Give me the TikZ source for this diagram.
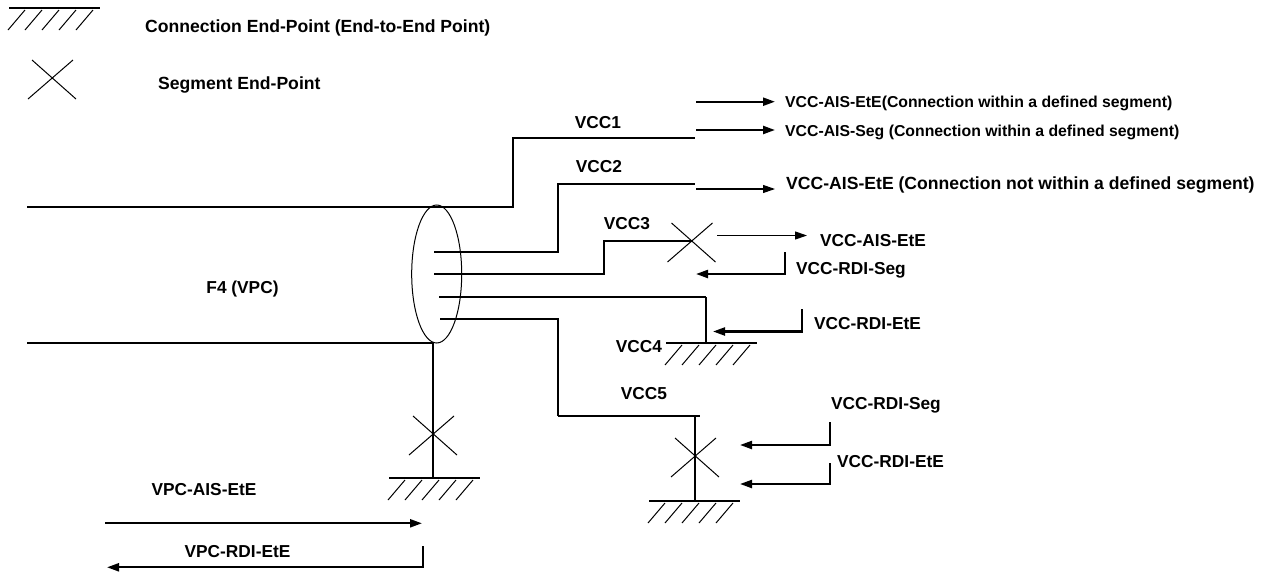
\documentclass[tikz,border=0pt]{standalone}
\usepackage{fontspec}
\setmainfont{Liberation Sans}
\usetikzlibrary{arrows.meta}
\tikzset{
  thk/.style={line width=2.2pt},
  thn/.style={line width=1.1pt},
  lbl/.style={inner sep=0pt, font=\fontsize{17.3}{20}\selectfont\bfseries},
  lbll/.style={inner sep=0pt, font=\fontsize{17.6}{20}\selectfont\bfseries},
  lbls/.style={inner sep=0pt, font=\fontsize{15.8}{19}\selectfont\bfseries},
  tip/.style={-{Triangle[length=12pt,width=8pt]}},
  segx/.pic={\draw[line width=1pt] (-24,20)--(21,-19) (-20,-19)--(24,20);},
  gnd/.pic={\draw[thk] (0,0)--(91,0);
    \foreach \k in {0,...,4} \draw[line width=1pt] (-1+17*\k,22)--(16+17*\k,2);}
}
\begin{document}
\begin{tikzpicture}[x=1pt,y=-1pt]
\useasboundingbox (0,0) rectangle (1272,573);
% legend
\pic (lg) at (9,8) {gnd};
\node[lbll, anchor=base west] (legA) at (145,32.3) {Connection End-Point (End-to-End Point)};
\pic (lx) at (52,79) {segx};
\node[lbll, anchor=base west] (legB) at (158,89) {Segment End-Point};

% coordinates
\coordinate (a0) at (27,207);
\coordinate (a1) at (513,207);
\coordinate (a2) at (513,138);
\coordinate (a3) at (695,138);
\coordinate (b0) at (27,343);
\coordinate (b1) at (433,343);
\coordinate (b2) at (433,478);
\coordinate (c0) at (434,252);
\coordinate (c1) at (558,252);
\coordinate (c2) at (558,184);
\coordinate (c3) at (695,184);
\coordinate (d0) at (434,274);
\coordinate (d1) at (604,274);
\coordinate (d2) at (604,241);
\coordinate (d3) at (691.5,241);
\coordinate (e0) at (439,297);
\coordinate (e1) at (706,297);
\coordinate (e2) at (706,343);
\coordinate (f0) at (440,319);
\coordinate (f1) at (558,319);
\coordinate (f2) at (558,416);
\coordinate (f3) at (700,416);
\coordinate (f4) at (695,416);
\coordinate (f5) at (695,501);

% lines
\draw[thk] (a0) -- (a1) -- (a2) -- (a3);
\draw[thk] (b0) -- (b1) -- (b2);
\draw[thk] (c0) -- (c1) -- (c2) -- (c3);
\draw[thn] (d0) -- (d1) -- (d2) -- (d3);
\draw[thn] (e0) -- (e1);
\draw[thk] (e1) -- (e2);
\draw[thk] (f0) -- (f1) -- (f2);
\draw[thn] (f2) -- (f3);
\draw[thk] (f4) -- (f5);

% ellipse
\draw[line width=1pt] (436.7,274) ellipse [x radius=25, y radius=69];

% end points
\pic (x1) at (433,435) {segx};
\pic (g1) at (389,478) {gnd};
\pic (x3) at (691.5,242) {segx};
\pic (g4) at (666,343) {gnd};
\pic (x5) at (695,457) {segx};
\pic (g5) at (649,501) {gnd};

% labels
\node[lbl, anchor=base] (vcc1) at (598,128) {VCC1};
\node[lbl, anchor=base] (vcc2) at (599,172) {VCC2};
\node[lbl, anchor=base] (vcc3) at (627,229) {VCC3};
\node[lbl, anchor=base] (vcc4) at (639,352) {VCC4};
\node[lbl, anchor=base] (vcc5) at (644,399) {VCC5};
\node[lbl, anchor=base] (f4l) at (242.5,293) {F4 (VPC)};

% right arrows & texts
\coordinate (p1s) at (696,101.7); \coordinate (p1e) at (775,101.7);
\coordinate (p2s) at (696,130);   \coordinate (p2e) at (775,130);
\coordinate (p3s) at (696,189);   \coordinate (p3e) at (775,189);
\coordinate (p4s) at (717,235.5); \coordinate (p4e) at (807,235.5);
\draw[thk, tip] (p1s) -- (p1e);
\draw[thk, tip] (p2s) -- (p2e);
\draw[thn, tip] (p3s) -- (p3e);
\draw[thn, tip] (p4s) -- (p4e);
\node[lbls, anchor=base west] (t1) at (785,107.7) {VCC-AIS-EtE(Connection within a defined segment)};
\node[lbls, anchor=base west] (t2) at (785,136.7) {VCC-AIS-Seg (Connection within a defined segment)};
\node[lbll, anchor=base west] (t3) at (786,189.3) {VCC-AIS-EtE (Connection not within a defined segment)};
\node[lbl, anchor=base west] (t4) at (820,246) {VCC-AIS-EtE};

% return arrows
\coordinate (r5a) at (785,252); \coordinate (r5b) at (785,274); \coordinate (r5c) at (696,274);
\draw[thk, tip] (r5a) -- (r5b) -- (r5c);
\node[lbl, anchor=base west] (t5) at (796,274) {VCC-RDI-Seg};
\coordinate (r6a) at (802,309); \coordinate (r6b) at (802,331.5); \coordinate (r6c) at (713,331.5);
\draw[thk, tip] (r6a) -- (r6b) -- (r6c);
\node[lbl, anchor=base west] (t6) at (814,329) {VCC-RDI-EtE};
\coordinate (r7a) at (830,422); \coordinate (r7b) at (830,445); \coordinate (r7c) at (740,445);
\draw[thk, tip] (r7a) -- (r7b) -- (r7c);
\node[lbl, anchor=base west] (t7) at (831,409) {VCC-RDI-Seg};
\coordinate (r8a) at (830,463); \coordinate (r8b) at (830,484); \coordinate (r8c) at (740,484);
\draw[thk, tip] (r8a) -- (r8b) -- (r8c);
\node[lbl, anchor=base west] (t8) at (837,467) {VCC-RDI-EtE};

% VPC arrows
\coordinate (v1a) at (105,523.3); \coordinate (v1b) at (422,523.3);
\draw[thk, tip] (v1a) -- (v1b);
\node[lbl, anchor=base] (t9) at (204,495) {VPC-AIS-EtE};
\coordinate (v2a) at (423,546); \coordinate (v2b) at (423,567.3); \coordinate (v2c) at (107,567.3);
\draw[thk, tip] (v2a) -- (v2b) -- (v2c);
\node[lbl, anchor=base] (t10) at (237.5,557) {VPC-RDI-EtE};
\end{tikzpicture}
\end{document}
